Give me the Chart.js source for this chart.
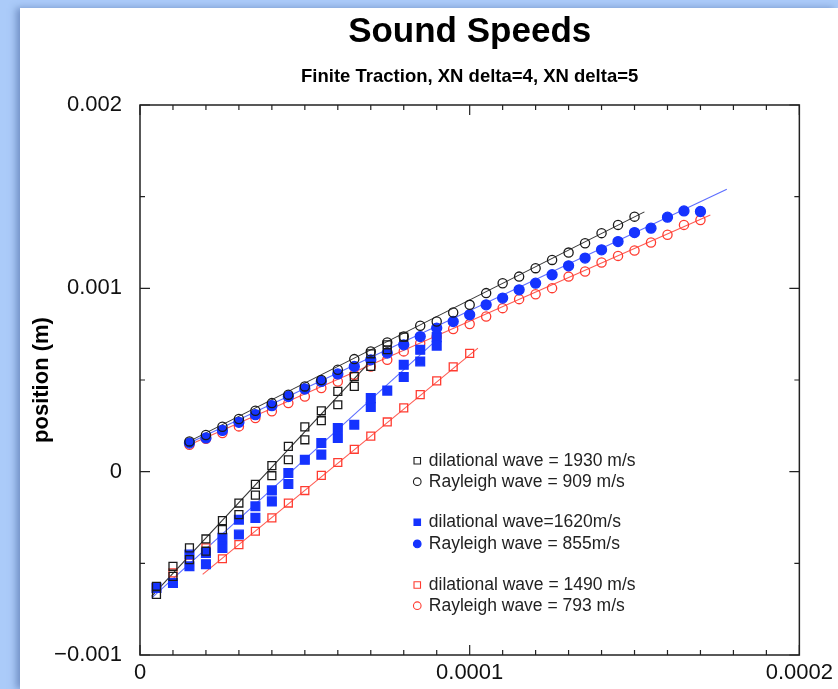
<!DOCTYPE html>
<html>
<head>
<meta charset="utf-8">
<title>Sound Speeds</title>
<script src="https://cdn.jsdelivr.net/npm/chart.js@4.4.1/dist/chart.umd.min.js"></script>
<style>
  html, body { margin: 0; padding: 0; width: 838px; height: 689px; overflow: hidden; background: #abcbf9; }
  #panel { position: absolute; left: 20px; top: 8px; width: 818px; height: 681px; background: #fff;
           box-shadow: -4px 0 7px rgba(60, 90, 150, 0.5); }
  #wrap { position: absolute; left: 0; top: 0; width: 838px; height: 689px; }
</style>
</head>
<body>
<div id="panel"></div>
<div id="wrap"><canvas id="speedChart" width="838" height="689"></canvas></div>
<script>
// measured front positions, time in s, position in m

// dilational waves (lower group)
const dilBlackTimes = [5e-6, 5e-6, 1e-5, 1e-5, 1.5e-5, 1.5e-5, 2e-5, 2e-5, 2.5e-5, 2.5e-5, 3e-5, 3e-5,
  3.5e-5, 3.5e-5, 4e-5, 4e-5, 4.5e-5, 4.5e-5, 5e-5, 5e-5, 5.5e-5, 5.5e-5, 6e-5, 6e-5,
  6.5e-5, 6.5e-5, 7e-5, 7e-5, 7.5e-5, 7.5e-5, 8e-5];
const dilBlackPos = [-6.25e-4, -6.7e-4, -5.16e-4, -5.71e-4, -4.16e-4, -4.8e-4, -3.67e-4, -4.34e-4,
  -2.67e-4, -3.16e-4, -1.71e-4, -2.34e-4, -6.9e-5, -1.28e-4, 3.3e-5, -2.2e-5, 1.38e-4, 6.5e-5,
  2.44e-4, 1.74e-4, 3.32e-4, 2.78e-4, 4.38e-4, 3.65e-4, 5.19e-4, 4.65e-4, 6.43e-4, 5.74e-4,
  6.92e-4, 6.65e-4, 7.34e-4];

const dilBlueTimes = [5e-6, 1e-5, 1.5e-5, 1.5e-5, 2e-5, 2e-5, 2.5e-5, 2.5e-5, 3e-5, 3e-5, 3.5e-5, 3.5e-5,
  4e-5, 4e-5, 4.5e-5, 4.5e-5, 5e-5, 5.5e-5, 5.5e-5, 6e-5, 6e-5, 6.5e-5, 7e-5, 7e-5, 7.5e-5,
  8e-5, 8e-5, 8.5e-5, 8.5e-5, 9e-5, 9e-5];
const dilBluePos = [-6.34e-4, -6.07e-4, -4.52e-4, -5.16e-4, -4.43e-4, -5.05e-4, -3.61e-4, -4.16e-4,
  -2.62e-4, -3.43e-4, -1.89e-4, -2.52e-4, -1.02e-4, -1.62e-4, -7e-6, -6.7e-5, 6.5e-5, 1.56e-4, 9.3e-5,
  2.38e-4, 1.84e-4, 2.56e-4, 4.01e-4, 3.53e-4, 4.42e-4, 5.83e-4, 5.16e-4, 6.65e-4, 6.01e-4,
  7.34e-4, 6.87e-4];

const dilRedTimes = [5e-6, 1e-5, 1.5e-5, 2e-5, 2.5e-5, 3e-5, 3.5e-5, 4e-5, 4.5e-5, 5e-5,
  5.5e-5, 6e-5, 6.5e-5, 7e-5, 7.5e-5, 8e-5, 8.5e-5, 9e-5, 9.5e-5, 1e-4];
const dilRedPos = [-6.34e-4, -5.52e-4, -4.98e-4, -4.16e-4, -4.75e-4, -3.98e-4, -3.25e-4, -2.52e-4,
  -1.71e-4, -1.03e-4, -2e-5, 5e-5, 1.22e-4, 1.94e-4, 2.71e-4, 3.48e-4, 4.2e-4, 4.95e-4, 5.72e-4, 6.45e-4];

// Rayleigh waves (upper group)
const rayBlackTimes = [1.5e-5, 2e-5, 2.5e-5, 3e-5, 3.5e-5, 4e-5, 4.5e-5, 5e-5, 5.5e-5, 6e-5,
  6.5e-5, 7e-5, 7.5e-5, 8e-5, 8.5e-5, 9e-5, 9.5e-5, 1e-4, 1.05e-4, 1.1e-4,
  1.15e-4, 1.2e-4, 1.25e-4, 1.3e-4, 1.35e-4, 1.4e-4, 1.45e-4, 1.5e-4];
const rayBlackPos = [1.65e-4, 2.0e-4, 2.45e-4, 2.87e-4, 3.32e-4, 3.74e-4, 4.2e-4, 4.65e-4, 5.0e-4, 5.56e-4,
  6.14e-4, 6.56e-4, 7.05e-4, 7.37e-4, 7.96e-4, 8.19e-4, 8.68e-4, 9.1e-4, 9.74e-4, 1.028e-3,
  1.064e-3, 1.11e-3, 1.155e-3, 1.195e-3, 1.246e-3, 1.301e-3, 1.346e-3, 1.391e-3];

const rayBlueTimes = [1.5e-5, 2e-5, 2.5e-5, 3e-5, 3.5e-5, 4e-5, 4.5e-5, 5e-5, 5.5e-5, 6e-5,
  6.5e-5, 7e-5, 7.5e-5, 8e-5, 8.5e-5, 9e-5, 9.5e-5, 1e-4, 1.05e-4, 1.1e-4,
  1.15e-4, 1.2e-4, 1.25e-4, 1.3e-4, 1.35e-4, 1.4e-4, 1.45e-4, 1.5e-4, 1.55e-4, 1.6e-4, 1.65e-4, 1.7e-4];
const rayBluePos = [1.56e-4, 1.84e-4, 2.25e-4, 2.69e-4, 3.11e-4, 3.6e-4, 4.1e-4, 4.51e-4, 4.92e-4, 5.33e-4,
  5.74e-4, 6.1e-4, 6.47e-4, 6.92e-4, 7.37e-4, 7.83e-4, 8.19e-4, 8.56e-4, 9.1e-4, 9.47e-4,
  9.92e-4, 1.028e-3, 1.074e-3, 1.123e-3, 1.165e-3, 1.21e-3, 1.255e-3, 1.304e-3, 1.328e-3, 1.388e-3,
  1.422e-3, 1.419e-3];

const rayRedTimes = rayBlueTimes;
const rayRedPos = [1.47e-4, 1.8e-4, 2.11e-4, 2.47e-4, 2.93e-4, 3.29e-4, 3.74e-4, 4.1e-4, 4.56e-4, 4.92e-4,
  5.29e-4, 5.74e-4, 6.1e-4, 6.56e-4, 7.01e-4, 7.37e-4, 7.78e-4, 8.05e-4, 8.46e-4, 8.92e-4,
  9.41e-4, 9.68e-4, 1.001e-3, 1.064e-3, 1.092e-3, 1.141e-3, 1.177e-3, 1.206e-3, 1.25e-3, 1.292e-3,
  1.346e-3, 1.373e-3];

// straight fits, end points
const fitDilBlackTimes = [3.5e-6, 7.1e-5];
const fitDilBlackPos = [-6.8e-4, 6.23e-4];
const fitDilBlueTimes = [3.5e-6, 9.1e-5];
const fitDilBluePos = [-6.9e-4, 7.35e-4];
const fitDilRedTimes = [1.9e-5, 1.025e-4];
const fitDilRedPos = [-5.6e-4, 6.74e-4];
const fitRayBlackTimes = [1.4e-5, 1.53e-4];
const fitRayBlackPos = [1.57e-4, 1.417e-3];
const fitRayBlueTimes = [1.4e-5, 1.78e-4];
const fitRayBluePos = [1.48e-4, 1.54e-3];
const fitRayRedTimes = [1.4e-5, 1.73e-4];
const fitRayRedPos = [1.38e-4, 1.4e-3];

const legendLabels = [
  'dilational wave = 1930 m/s',
  'Rayleigh wave = 909 m/s',
  'dilational wave=1620m/s',
  'Rayleigh wave = 855m/s',
  'dilational wave = 1490 m/s',
  'Rayleigh wave = 793 m/s'
];

const FONT = '"Liberation Sans", Arial, Helvetica, sans-serif';
const BLACK = '#1a1a1a', BLUE = '#1533ff', RED = '#ff3b30';

function pts(xs, ys) {
  return xs.map((x, i) => ({ x: x, y: ys[i] }));
}

function markers(label, xs, ys, color, style, filled, r) {
  return {
    label: label,
    data: pts(xs, ys),
    showLine: false,
    pointStyle: style,
    pointRadius: r,
    pointBorderWidth: 1.3,
    borderColor: color,
    backgroundColor: filled ? color : 'rgba(255,255,255,0)',
    order: 1
  };
}

function fitLine(xs, ys, color) {
  return {
    data: pts(xs, ys),
    showLine: true,
    pointRadius: 0,
    borderColor: color,
    borderWidth: 1.1,
    order: 2
  };
}

// legend inside the plot, rows as fractions of the plot area
const legendPlugin = {
  id: 'waveLegend',
  afterDraw(chart) {
    const { ctx, chartArea: a } = chart;
    const rows = [0.6467, 0.6849, 0.7587, 0.798, 0.8727, 0.9104];
    ctx.save();
    ctx.font = '17.5px ' + FONT;
    ctx.textBaseline = 'middle';
    legendLabels.forEach((text, i) => {
      const ds = chart.data.datasets[i];
      const y = a.top + rows[i] * a.height;
      const x = a.left + 0.4205 * a.width;
      ctx.strokeStyle = ds.borderColor;
      ctx.fillStyle = ds.backgroundColor;
      ctx.lineWidth = 1.1;
      Chart.helpers.drawPoint(ctx, { pointStyle: ds.pointStyle, radius: ds.pointStyle === 'rect' ? 4.6 : 3.8, rotation: 0, borderWidth: 1.1 }, x, y);
      ctx.fillStyle = '#222';
      ctx.fillText(text, a.left + 0.438 * a.width, y);
    });
    ctx.restore();
  }
};

// box with inward ticks on all four sides
const framePlugin = {
  id: 'frameTicks',
  afterDatasetsDraw(chart) {
    const { ctx, chartArea: a, scales } = chart;
    ctx.save();
    ctx.strokeStyle = '#222';
    ctx.lineWidth = 1.5;
    ctx.strokeRect(a.left, a.top, a.width, a.height);
    ctx.lineWidth = 1.2;
    ctx.beginPath();
    scales.x.ticks.forEach(t => {
      const px = scales.x.getPixelForValue(t.value);
      const len = t.label ? 10 : 5;
      ctx.moveTo(px, a.bottom); ctx.lineTo(px, a.bottom - len);
      ctx.moveTo(px, a.top); ctx.lineTo(px, a.top + len);
    });
    scales.y.ticks.forEach(t => {
      const py = scales.y.getPixelForValue(t.value);
      const len = t.label ? 10 : 5;
      ctx.moveTo(a.left, py); ctx.lineTo(a.left + len, py);
      ctx.moveTo(a.right, py); ctx.lineTo(a.right - len, py);
    });
    ctx.stroke();
    ctx.restore();
  }
};

function isMultiple(v, step) {
  const q = v / step;
  return Math.abs(q - Math.round(q)) < 1e-6;
}

new Chart(document.getElementById('speedChart'), {
  type: 'scatter',
  data: {
    datasets: [
      markers('dilational 1930', dilBlackTimes, dilBlackPos, BLACK, 'rect', false, 5.6),
      markers('Rayleigh 909', rayBlackTimes, rayBlackPos, BLACK, 'circle', false, 4.6),
      markers('dilational 1620', dilBlueTimes, dilBluePos, BLUE, 'rect', true, 6.2),
      markers('Rayleigh 855', rayBlueTimes, rayBluePos, BLUE, 'circle', true, 5),
      markers('dilational 1490', dilRedTimes, dilRedPos, RED, 'rect', false, 5.6),
      markers('Rayleigh 793', rayRedTimes, rayRedPos, RED, 'circle', false, 4.6),
      fitLine(fitDilBlackTimes, fitDilBlackPos, '#333'),
      fitLine(fitRayBlackTimes, fitRayBlackPos, '#333'),
      fitLine(fitDilBlueTimes, fitDilBluePos, '#5c6dff'),
      fitLine(fitRayBlueTimes, fitRayBluePos, '#5c6dff'),
      fitLine(fitDilRedTimes, fitDilRedPos, '#ff5b52'),
      fitLine(fitRayRedTimes, fitRayRedPos, '#ff5b52')
    ]
  },
  options: {
    responsive: false,
    devicePixelRatio: 1,
    animation: false,
    layout: { padding: { left: 0, right: 38, top: 0, bottom: 0 } },
    plugins: {
      legend: { display: false },
      tooltip: { enabled: false },
      title: {
        display: true,
        text: 'Sound Speeds',
        fullSize: false,
        color: '#000',
        font: { family: FONT, size: 35, weight: 'bold' },
        padding: { top: 11, bottom: 0 }
      },
      subtitle: {
        display: true,
        text: 'Finite Traction, XN delta=4, XN delta=5',
        fullSize: false,
        color: '#000',
        font: { family: FONT, size: 18.5, weight: 'bold' },
        padding: { top: 12.9, bottom: 16.9 }
      }
    },
    scales: {
      x: {
        type: 'linear',
        min: 0,
        max: 0.0002,
        grid: { display: false, drawTicks: false },
        border: { display: false },
        afterFit: s => { s.height = 34; },
        ticks: {
          stepSize: 0.00001,
          autoSkip: false,
          maxRotation: 0,
          padding: 5,
          color: '#111',
          font: { family: FONT, size: 22 },
          callback: v => {
            if (!isMultiple(v, 0.0001)) return '';
            return Math.abs(v) < 1e-12 ? '0' : v.toFixed(4);
          }
        }
      },
      y: {
        type: 'linear',
        min: -0.001,
        max: 0.002,
        grid: { display: false, drawTicks: false },
        border: { display: false },
        afterFit: s => { s.width = 140; },
        title: {
          display: true,
          text: 'position (m)',
          color: '#000',
          font: { family: FONT, size: 22, weight: 'bold' },
          padding: { top: 29, bottom: 0 }
        },
        ticks: {
          stepSize: 0.0005,
          autoSkip: false,
          padding: 18,
          color: '#111',
          font: { family: FONT, size: 22 },
          callback: v => {
            if (!isMultiple(v, 0.001)) return '';
            if (Math.abs(v) < 1e-12) return '0';
            return (v < 0 ? '\u2212' : '') + Math.abs(v).toFixed(3);
          }
        }
      }
    }
  },
  plugins: [framePlugin, legendPlugin]
});
</script>
</body>
</html>
